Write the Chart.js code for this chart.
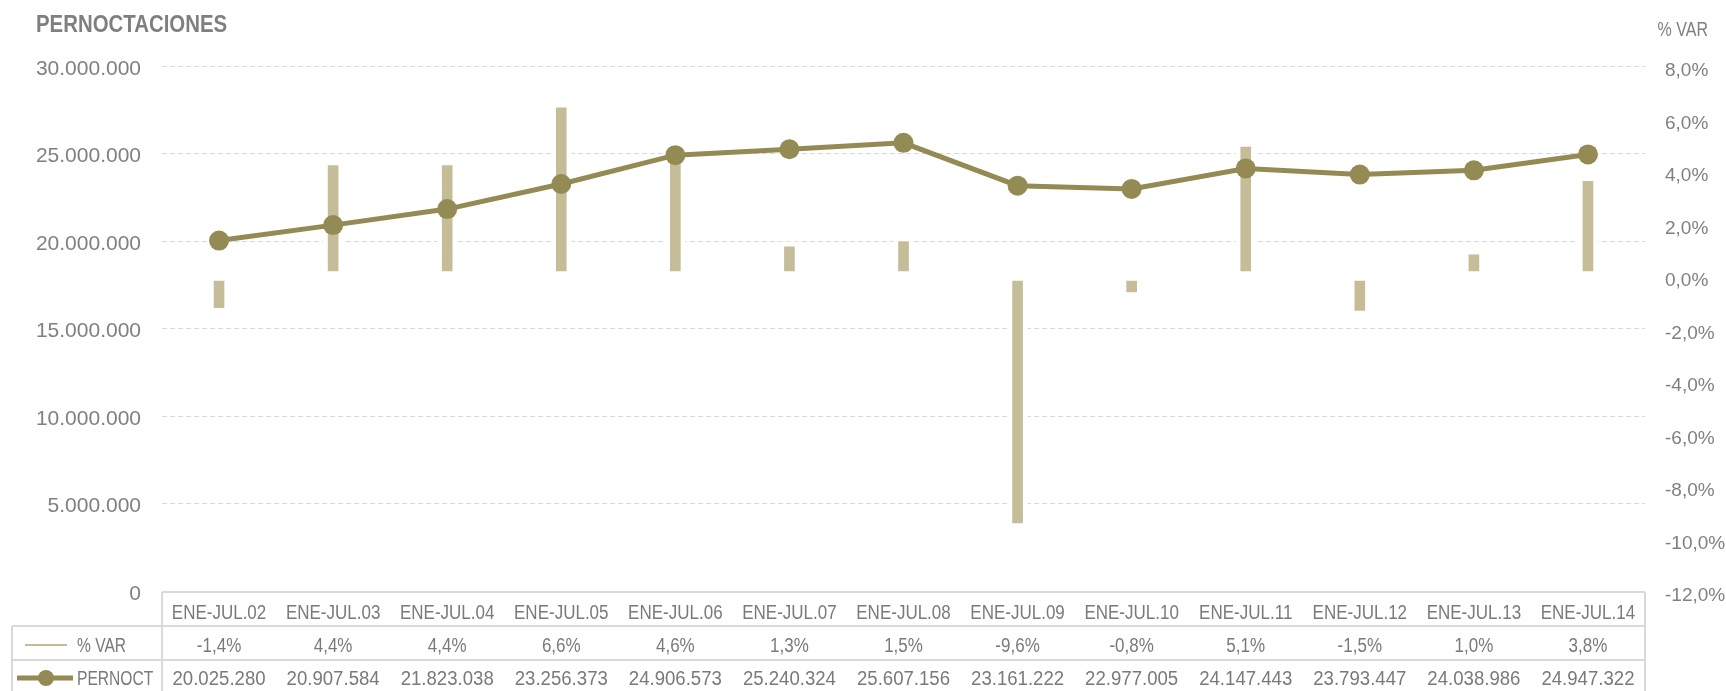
<!DOCTYPE html>
<html>
<head>
<meta charset="utf-8">
<script src="https://cdn.jsdelivr.net/npm/chart.js@4.4.1/dist/chart.umd.min.js"></script>
<style>
  html, body { margin: 0; padding: 0; background: #fff; }
  #wrap { width: 1726px; height: 691px; }
</style>
</head>
<body>
<div id="wrap"><canvas id="chart" width="1726" height="691"></canvas></div>
<script>
const categories = ['ENE-JUL.02', 'ENE-JUL.03', 'ENE-JUL.04', 'ENE-JUL.05', 'ENE-JUL.06', 'ENE-JUL.07',
  'ENE-JUL.08', 'ENE-JUL.09', 'ENE-JUL.10', 'ENE-JUL.11', 'ENE-JUL.12', 'ENE-JUL.13', 'ENE-JUL.14'];
const pernoct = [20025280, 20907584, 21823038, 23256373, 24906573, 25240324, 25607156,
  23161222, 22977005, 24147443, 23793447, 24038986, 24947322];
const pctVar = [-1.4, 4.4, 4.4, 6.6, 4.6, 1.3, 1.5, -9.6, -0.8, 5.1, -1.5, 1.0, 3.8];

const OLIVE = '#948a54';
const TAN = '#c4bd97';
const GRAY = '#808080';
const LINE = '#d9d9d9';
const SANS = "'Liberation Sans', Arial, sans-serif";

function miles(v) {
  return String(Math.round(v)).replace(/\B(?=(\d{3})+(?!\d))/g, '.');
}
function pct(v) {
  return v.toFixed(1).replace('.', ',') + '%';
}

// texto estrechado (no hay fuente condensada instalada)
function texto(ctx, s, x, y, align, sx) {
  ctx.save();
  ctx.translate(x, y);
  ctx.scale(sx, 1);
  ctx.textAlign = align;
  ctx.fillText(s, 0, 0);
  ctx.restore();
}

// titulo, etiqueta del eje derecho y tabla de datos
const tablaPlugin = {
  id: 'tabla',
  afterDraw(chart) {
    const ctx = chart.ctx;
    const area = chart.chartArea;
    const xs = chart.scales.x;
    ctx.save();

    ctx.fillStyle = '#7f7f7f';
    ctx.font = 'bold 24px ' + SANS;
    ctx.textBaseline = 'alphabetic';
    texto(ctx, 'PERNOCTACIONES', 36, 32, 'left', 0.85);

    ctx.font = '20px ' + SANS;
    ctx.fillStyle = GRAY;
    texto(ctx, '% VAR', 1708, 36, 'right', 0.8);

    // lineas de la tabla
    const top = 592, r1 = 626, r2 = 660, bottom = 691, left = 12;
    ctx.strokeStyle = LINE;
    ctx.lineWidth = 2;
    ctx.beginPath();
    ctx.moveTo(area.left, top); ctx.lineTo(area.right, top);
    ctx.moveTo(left, r1); ctx.lineTo(area.right, r1);
    ctx.moveTo(left, r2); ctx.lineTo(area.right, r2);
    ctx.moveTo(left, r1); ctx.lineTo(left, bottom);
    ctx.moveTo(area.left, top); ctx.lineTo(area.left, bottom);
    ctx.moveTo(area.right, top); ctx.lineTo(area.right, bottom);
    ctx.stroke();

    // claves de la leyenda
    ctx.strokeStyle = TAN;
    ctx.lineWidth = 2;
    ctx.beginPath();
    ctx.moveTo(25, 645); ctx.lineTo(67, 645);
    ctx.stroke();
    ctx.strokeStyle = OLIVE;
    ctx.lineWidth = 5;
    ctx.beginPath();
    ctx.moveTo(17, 678); ctx.lineTo(73, 678);
    ctx.stroke();
    ctx.fillStyle = OLIVE;
    ctx.beginPath();
    ctx.arc(46, 678, 8, 0, Math.PI * 2);
    ctx.fill();

    ctx.fillStyle = '#7a7a7a';
    ctx.font = '20px ' + SANS;
    ctx.textBaseline = 'middle';
    texto(ctx, '% VAR', 77, 646, 'left', 0.78);
    texto(ctx, 'PERNOCT', 77, 679, 'left', 0.78);

    categories.forEach((c, i) => {
      const cx = xs.getPixelForValue(i);
      texto(ctx, c, cx, 613, 'center', 0.85);
      texto(ctx, pct(pctVar[i]), cx, 646, 'center', 0.85);
      texto(ctx, miles(pernoct[i]), cx, 679, 'center', 0.93);
    });
    ctx.restore();
  }
};

new Chart(document.getElementById('chart'), {
  data: {
    labels: categories,
    datasets: [
      {
        type: 'line',
        label: 'PERNOCT',
        data: pernoct,
        yAxisID: 'y',
        borderColor: OLIVE,
        backgroundColor: OLIVE,
        borderWidth: 5,
        pointRadius: 10,
        pointBorderWidth: 0,
        pointBackgroundColor: OLIVE,
        tension: 0,
        order: 0
      },
      {
        type: 'bar',
        label: '% VAR',
        data: pctVar,
        yAxisID: 'y1',
        backgroundColor: TAN,
        borderColor: '#ffffff',
        borderWidth: 5,
        borderSkipped: false,
        barThickness: 20,
        order: 1
      }
    ]
  },
  options: {
    responsive: false,
    animation: false,
    layout: { padding: { top: 66, bottom: 100, left: 0, right: 0 } },
    plugins: {
      legend: { display: false },
      tooltip: { enabled: false }
    },
    scales: {
      x: {
        type: 'category',
        display: false,
        offset: true
      },
      y: {
        position: 'left',
        min: 0,
        max: 30000000,
        ticks: {
          stepSize: 5000000,
          padding: 21,
          labelOffset: 3,
          color: GRAY,
          font: { family: SANS, size: 21 },
          callback: v => miles(v)
        },
        grid: {
          color: c => (c.tick && c.tick.value === 0 ? 'rgba(0,0,0,0)' : LINE),
          lineWidth: 1,
          drawTicks: false
        },
        border: { display: false, dash: [5, 3] },
        afterFit: s => { s.width = 162; }
      },
      y1: {
        position: 'right',
        min: -12,
        max: 8,
        ticks: {
          stepSize: 2,
          padding: 20,
          labelOffset: 5,
          color: GRAY,
          font: { family: SANS, size: 19 },
          callback: v => pct(v)
        },
        grid: { display: false, drawTicks: false },
        border: { display: false },
        afterFit: s => { s.width = 81; }
      }
    }
  },
  plugins: [tablaPlugin]
});
</script>
</body>
</html>
